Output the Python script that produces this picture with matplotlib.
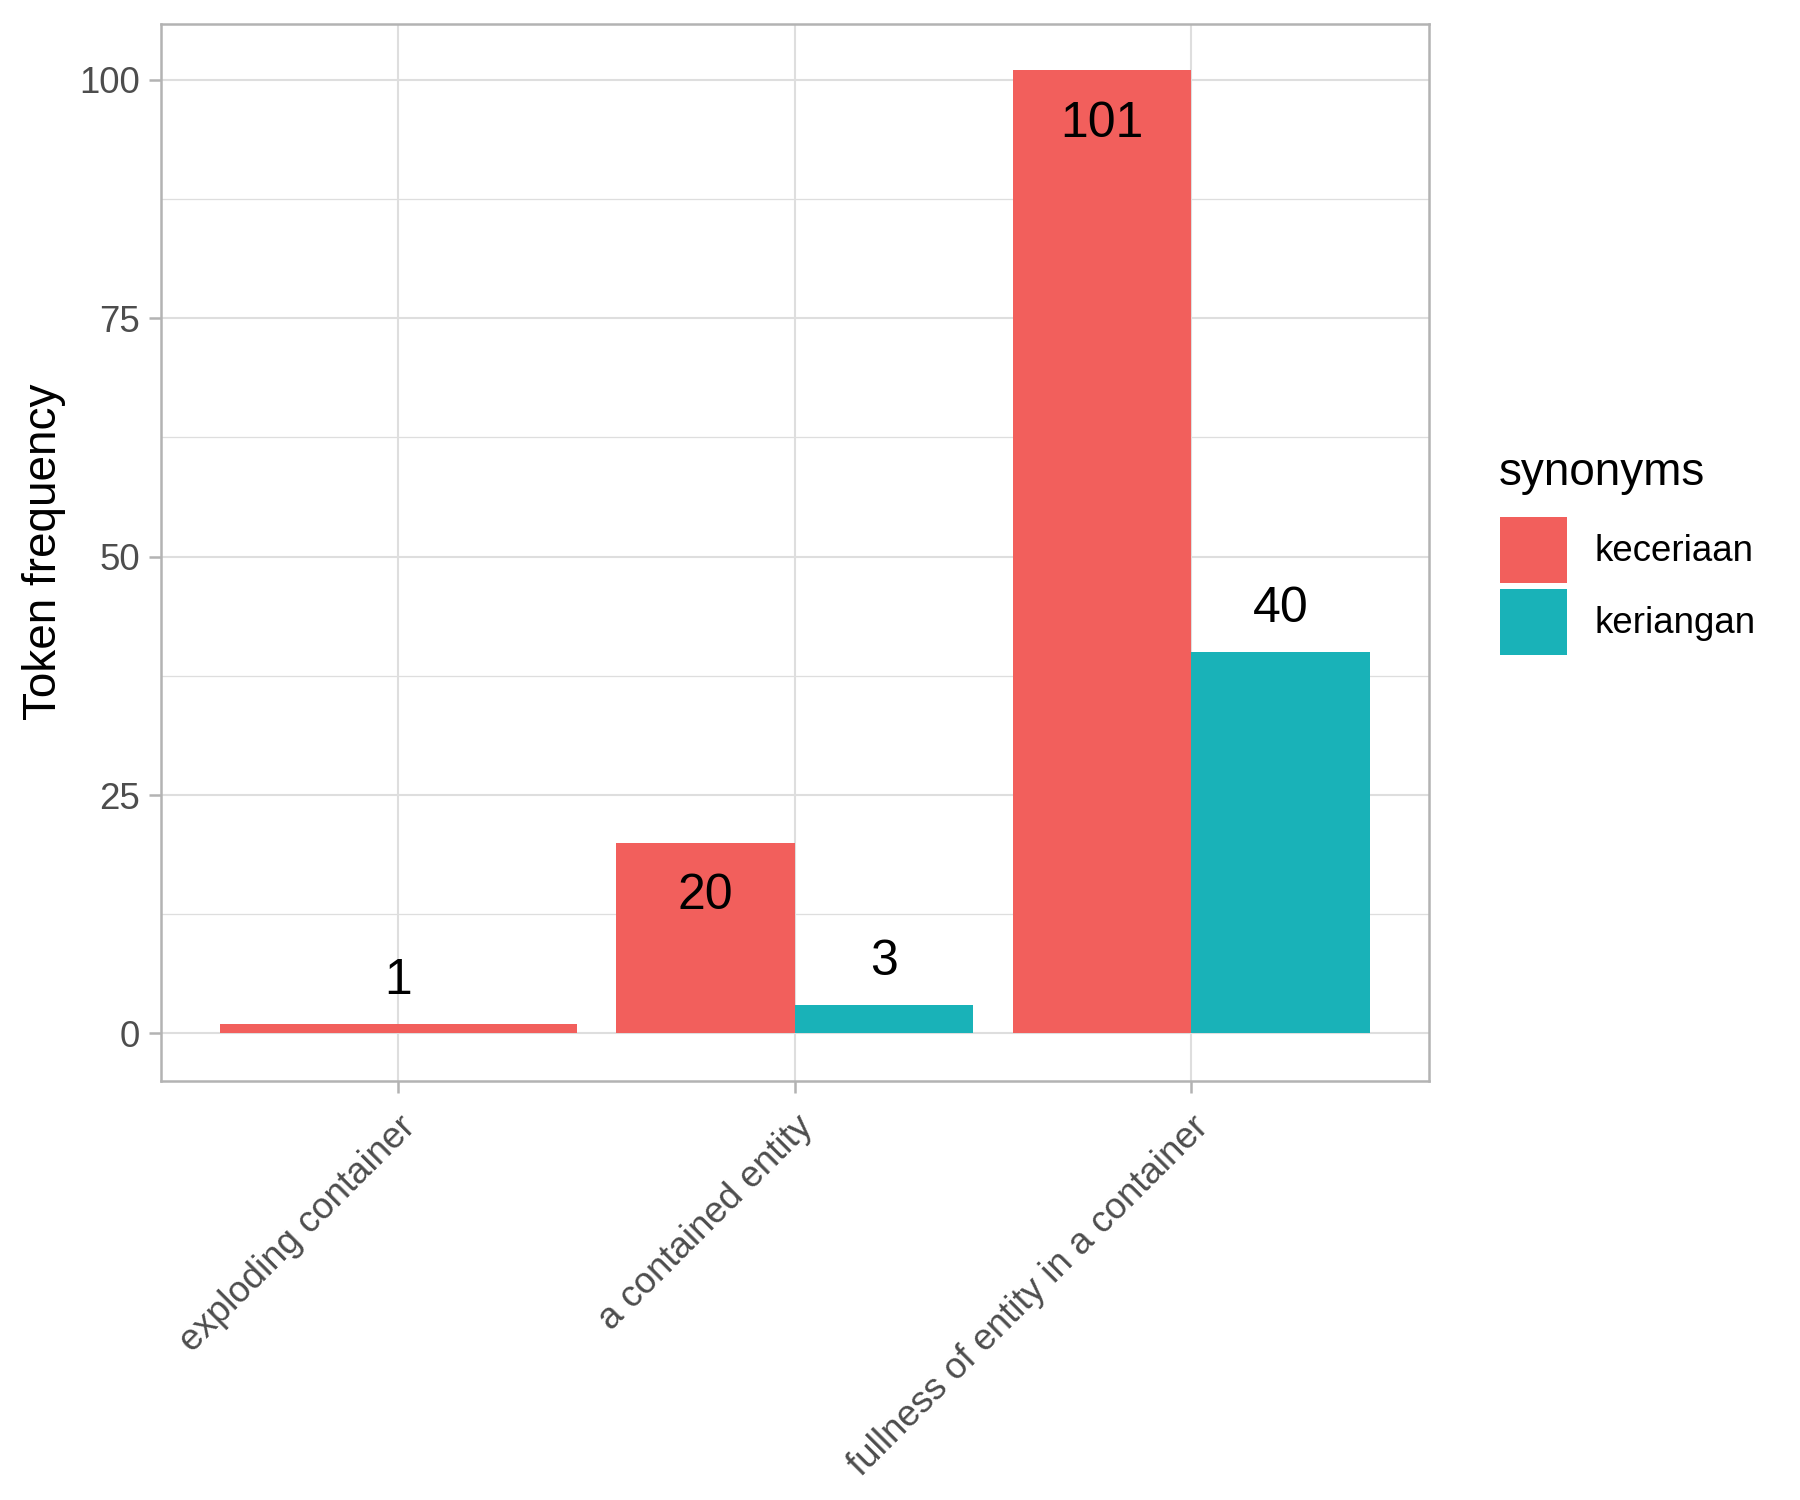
import matplotlib
matplotlib.use('Agg')
import matplotlib.pyplot as plt
from matplotlib.patches import Patch
import numpy as np

plt.rcParams['font.family'] = ['Liberation Sans', 'DejaVu Sans']

# data
categories = ['exploding container', 'a contained entity',
              'fullness of entity in a container']
synonyms = ['keceriaan', 'keriangan']
keceriaan = [1, 20, 101]
keriangan = [None, 3, 40]   # no keriangan token for "exploding container"
colors = ['#F25F5C', '#19B2B8']

# label placement: positive = above the bar top, negative = inside the bar
label_offset = {'keceriaan': [10.2, -12.8, -12.8], 'keriangan': [None, 10.2, 10.2]}

series = {'keceriaan': keceriaan, 'keriangan': keriangan}

fig = plt.figure(figsize=(6, 5), dpi=300)
ax = fig.add_axes([160.5/1800, 1 - 1080.5/1500, (1429-160.5)/1800, (1080.5-23.5)/1500])

grid_c = '#DEDEDE'
border_c = '#B3B3B3'

# dodged bars, like ggplot position_dodge (width 0.9)
for i, cat in enumerate(categories):
    present = [s for s in synonyms if series[s][i] is not None]
    n = len(present)
    w = 0.9 / n
    for j, s in enumerate(present):
        x = (i + 1) - 0.45 + w * (j + 0.5)
        v = series[s][i]
        ax.bar(x, v, width=w, color=colors[synonyms.index(s)], zorder=3,
               linewidth=0)
        off = label_offset[s][i]
        ax.annotate(str(v), (x, v), xytext=(0, off), textcoords='offset points',
                    ha='center', va='center', fontsize=12, color='black', zorder=4)

ax.set_xlim(0.4, 3.6)
ax.set_ylim(-4.93, 105.9)
ax.set_xticks([1, 2, 3])
ax.set_xticklabels(categories, rotation=45, ha='right', va='top',
                   rotation_mode='anchor', fontsize=8.8, color='#4D4D4D')
ax.set_yticks([0, 25, 50, 75, 100])
ax.set_yticks([12.5, 37.5, 62.5, 87.5], minor=True)
ax.tick_params(axis='y', labelsize=8.8, labelcolor='#4D4D4D', color=border_c,
               length=2.9, width=0.6, pad=2)
ax.tick_params(axis='x', labelsize=8.8, labelcolor='#4D4D4D', color=border_c,
               length=2.9, width=0.6, pad=4)
ax.tick_params(which='minor', length=0)

ax.grid(True, which='major', color=grid_c, linewidth=0.5, zorder=0)
ax.grid(True, which='minor', axis='y', color=grid_c, linewidth=0.3, zorder=0)
ax.set_axisbelow(True)
for sp in ax.spines.values():
    sp.set_color(border_c)
    sp.set_linewidth(0.6)

ax.set_ylabel('Token frequency', fontsize=11, labelpad=3.3)

# legend
fig.text(1499/1800, 1 - 473/1500, 'synonyms', fontsize=11, ha='left', va='center')
handles = [Patch(facecolor=c, linewidth=0) for c in colors]
leg = fig.legend(handles, synonyms, loc='upper left',
                 bbox_to_anchor=(1500/1800, 1 - 516.5/1500),
                 frameon=False, fontsize=8.8,
                 handlelength=1.82, handleheight=2.4, handletextpad=0.76,
                 labelspacing=0.16, borderpad=0, borderaxespad=0)

fig.savefig('out.png', dpi=300)
